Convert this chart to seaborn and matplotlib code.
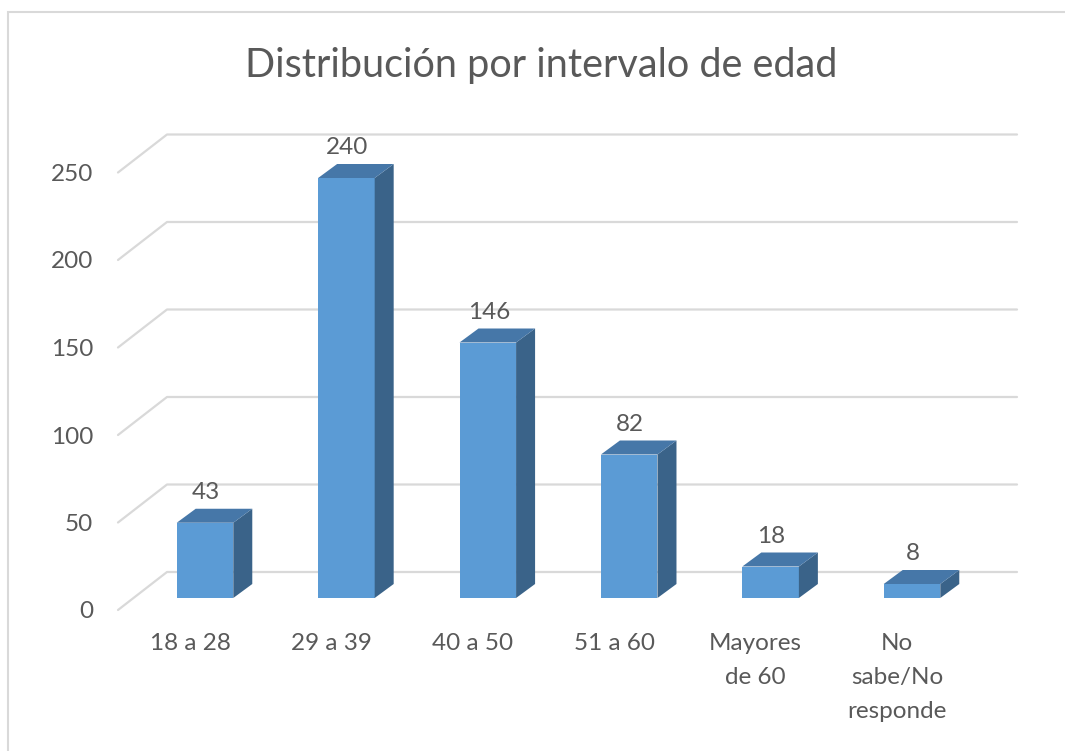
#%% Rebuild of the Excel-style 3D column chart (age intervals).
import matplotlib.pyplot as plt
import seaborn as sns
from matplotlib.lines import Line2D
from matplotlib.patches import Polygon, Rectangle
from matplotlib.transforms import IdentityTransform

categories = ['18 a 28', '29 a 39', '40 a 50', '51 a 60', 'Mayores\nde 60', 'No\nsabe/No\nresponde']
counts = [43, 240, 146, 82, 18, 8]
y_ticks = [0, 50, 100, 150, 200, 250]
title = 'Distribución por intervalo de edad'

front_col = '#5B9BD5'
top_col = '#4677A8'
side_col = '#3A6389'
grid_col = '#D9D9D9'
text_col = '#595959'

sns.set_theme(style='white')
plt.rcParams['font.family'] = ['Lato', 'DejaVu Sans']

W, H = 1065, 751
fig = plt.figure(figsize=(W / 100, H / 100), dpi=100)
# axes placed so the front plane of the bars sits where the reference has it
ax = fig.add_axes([134.3 / W, 1 - 598 / H, 848.4 / W, 437.5 / H])
sns.barplot(x=categories, y=counts, color=front_col, saturation=1, width=0.4,
            linewidth=0, edgecolor='none', ax=ax, zorder=2)
ax.set_xlim(-0.5, 5.5)
ax.set_ylim(0, 250)
ax.axis('off')

ident = IdentityTransform()
dx, dy = 19, 14  # bar depth in pixels

# slanted "3D" gridlines + y tick labels
for v in y_ticks:
    _, yv = ax.transData.transform((0, v))
    ax.add_line(Line2D([118, 167, 1017], [yv - 12, yv + 26, yv + 26], color=grid_col,
                       lw=1.6, transform=ident, clip_on=False, zorder=0.5))
    ax.text(93, yv - 14, str(v), transform=ident, ha='right', va='center',
            fontsize=17.5, color=text_col)

# side and top faces, value labels, category labels
for p, v, lab in zip(ax.patches, counts, categories):
    (x0, y0), (x1, y1) = ax.transData.transform([(p.get_x(), 0),
                                                 (p.get_x() + p.get_width(), p.get_height())])
    ax.add_patch(Polygon([(x1, y0), (x1 + dx, y0 + dy), (x1 + dx, y1 + dy), (x1, y1)],
                         closed=True, facecolor=side_col, edgecolor='none',
                         transform=ident, clip_on=False, zorder=2))
    ax.add_patch(Polygon([(x0, y1), (x0 + dx, y1 + dy), (x1 + dx, y1 + dy), (x1, y1)],
                         closed=True, facecolor=top_col, edgecolor='none',
                         transform=ident, clip_on=False, zorder=2))
    xc = (x0 + x1) / 2
    ax.text(xc + 1, y1 + 30, str(v), transform=ident, ha='center', va='center',
            fontsize=17.5, color=text_col)
    ax.text(xc - 15, y0 - 35, lab, transform=ident, ha='center', va='top',
            fontsize=17.5, color=text_col, linespacing=1.75)

fig.text(541 / W, 1 - 65 / H, title, ha='center', va='center', fontsize=28.5, color=text_col)

# chart frame (right and bottom edges fall outside the picture)
fig.add_artist(Rectangle((8, -20), W + 40, H - 12 + 20, transform=ident, fill=False,
                         edgecolor=grid_col, lw=1.5))

plt.savefig('out.png', dpi=100, facecolor='white')
